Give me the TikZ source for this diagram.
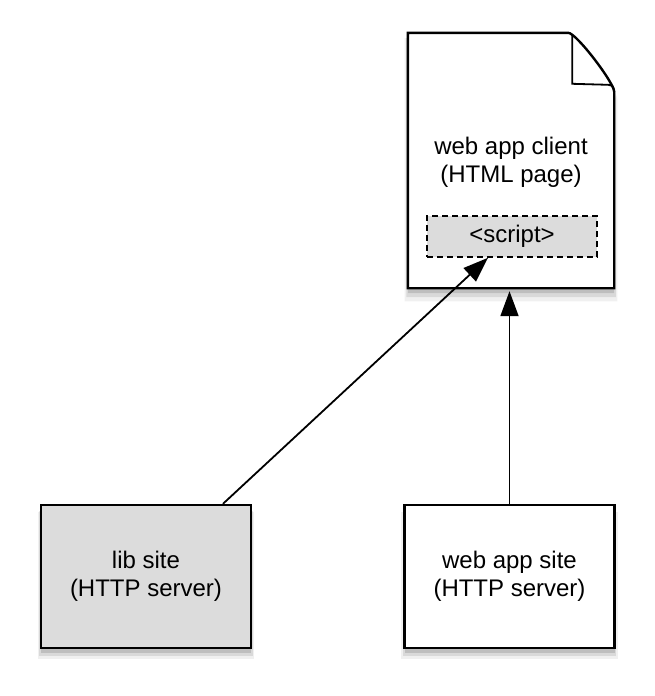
\documentclass[tikz,border=0pt]{standalone}
\usepackage{fontspec}
\setmainfont{Liberation Sans}
\usetikzlibrary{arrows.meta, shadows}
\definecolor{boxgray}{RGB}{220,220,220}

\begin{document}
\begin{tikzpicture}[x=1pt, y=-1pt,
    every node/.style={font=\fontsize{24}{28}\selectfont, align=center},
    shade/.style={drop shadow={shadow xshift=0pt, shadow yshift=-9pt, shadow scale=1.03, opacity=0.12},
                  drop shadow={shadow xshift=0pt, shadow yshift=-7pt, shadow scale=1.015, opacity=0.2},
                  drop shadow={shadow xshift=0pt, shadow yshift=-5pt, opacity=0.3}},
    server/.style={draw, line width=2.4pt, minimum width=210pt, minimum height=143pt, shade},
    link/.style={line width=1.8pt, -{Triangle[length=25pt, width=18pt]}}]

    \useasboundingbox (0,0) rectangle (654,696);

    % Page with folded corner
    \node[minimum width=206pt, minimum height=255pt, inner sep=0pt] (client) at (511,160.5) {};
    \draw[line width=2.4pt, fill=white, shade] (client.south west) -- (client.north west)
        -- ([xshift=-46pt]client.north east)
        .. controls ([xshift=-38pt]client.north east) and ([yshift=-50pt]client.north east)
        .. ([yshift=-59pt]client.north east) -- (client.south east) -- cycle;
    \draw[line width=1.8pt] ([xshift=-42pt, yshift=-2pt]client.north east)
        -- ([xshift=-42pt, yshift=-51pt]client.north east)
        -- ([xshift=-6pt, yshift=-52pt]client.north east)
        .. controls ([xshift=-1pt, yshift=-53pt]client.north east) .. ([yshift=-59pt]client.north east);

    \node (title) at (511,162) {web app client\\(HTML page)};
    \node[draw, fill=boxgray, line width=1.6pt, dash pattern=on 6pt off 4pt,
          minimum width=170pt, minimum height=41pt] (script) at (512,236.5) {<script>};

    % Servers
    \node[server, fill=boxgray] (lib) at (146,576.5) {lib site\\(HTTP server)};
    \node[server, fill=white] (site) at (509.5,576.5) {web app site\\(HTTP server)};

    % Connections
    \draw[link] ([xshift=77pt]lib.north) -- ([xshift=-24pt]script.south);
    \draw[link, shorten >=3pt] (site.north) -- (site.north |- client.south);
\end{tikzpicture}
\end{document}
